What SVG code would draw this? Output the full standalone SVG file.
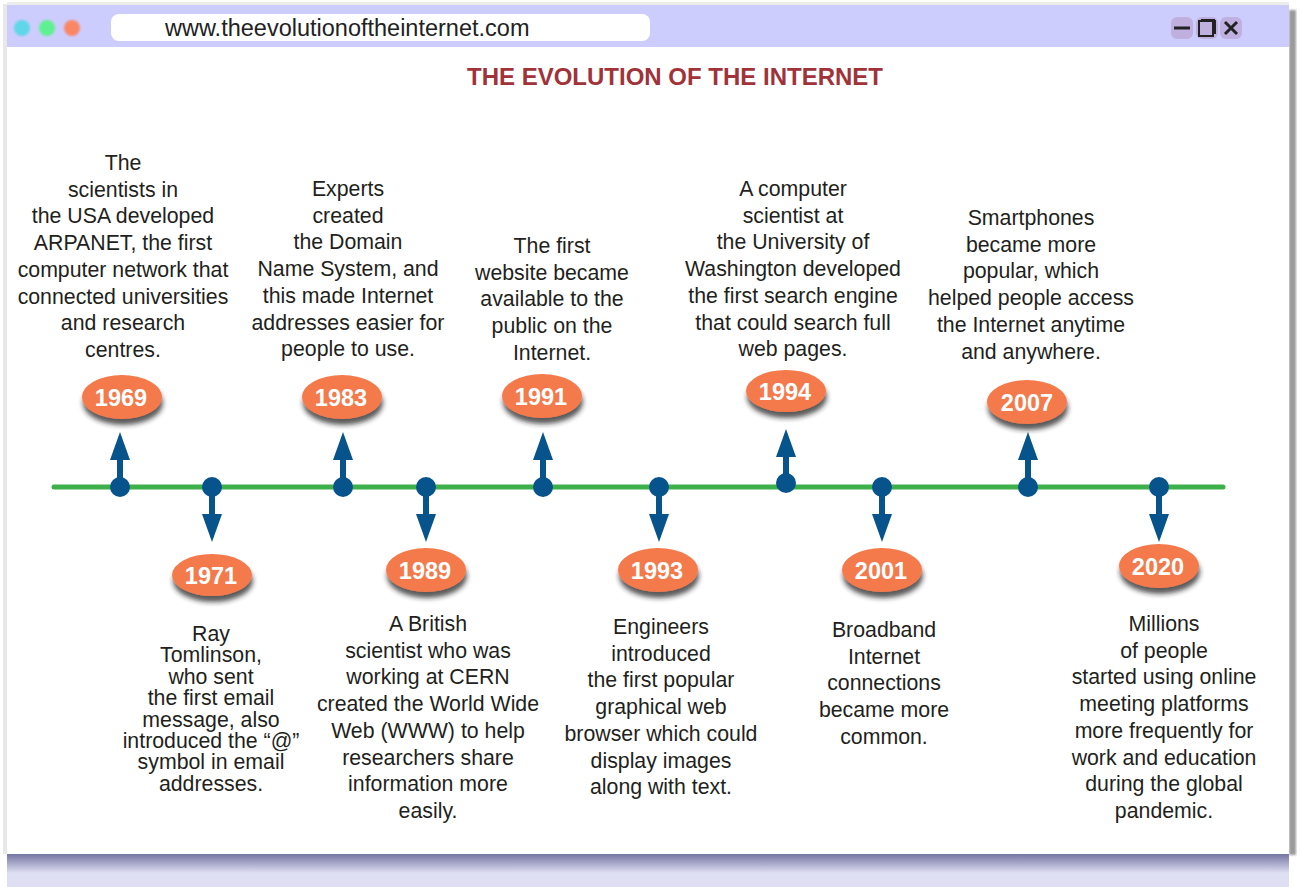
<svg xmlns="http://www.w3.org/2000/svg" width="1300" height="887" viewBox="0 0 1300 887">
<defs>
<style>
.desc{font-family:"Liberation Sans",Arial,Helvetica,sans-serif;font-size:21.3px;fill:#231f20;text-anchor:middle}
.year{font-family:"Liberation Sans",Arial,Helvetica,sans-serif;font-size:23.5px;font-weight:bold;fill:#ffffff;text-anchor:middle}
.pill{fill:#f47a4b;filter:url(#sh)}
.stem{stroke:#07538b;stroke-width:6}
.dot{fill:#07538b}
.head{fill:#07538b}
.btn{fill:#bfb0e0}
</style>
<filter id="sh" x="-30%" y="-30%" width="160%" height="180%">
<feDropShadow dx="1" dy="6" stdDeviation="2.5" flood-color="#222" flood-opacity="0.75"/>
</filter>
<filter id="blur1"><feGaussianBlur stdDeviation="1"/></filter>
<linearGradient id="bshadow" x1="0" y1="0" x2="0" y2="1">
<stop offset="0" stop-color="#6f6f9e"/>
<stop offset="1" stop-color="#dedff2"/>
</linearGradient>
</defs>

<rect x="0" y="0" width="1300" height="887" fill="#ffffff"/>
<!-- window shadow and bottom band -->
<rect x="7" y="853" width="1282" height="34" fill="#dedff2"/>
<rect x="7" y="853" width="1282" height="20" fill="url(#bshadow)"/>
<rect x="1289" y="10" width="7" height="845" fill="#9a9a9a" filter="url(#blur1)"/>
<rect x="3" y="4" width="4" height="850" fill="#e8e8e8"/>
<rect x="7" y="2" width="1282" height="4" fill="#ececec"/>
<!-- window -->
<rect x="7" y="5" width="1282" height="849" fill="#ffffff"/>
<rect x="7" y="5" width="1282" height="42" fill="#cdcdfd"/>
<circle cx="22" cy="28" r="8" fill="#60d6e9" filter="url(#blur1)"/>
<circle cx="47" cy="28" r="8" fill="#5ff191" filter="url(#blur1)"/>
<circle cx="72" cy="28" r="8" fill="#fb8665" filter="url(#blur1)"/>
<rect x="111" y="14" width="539" height="27" rx="8" fill="#ffffff"/>
<text x="165" y="36" font-family="'Liberation Sans',Arial,sans-serif" font-size="23.5" fill="#222">www.theevolutionoftheinternet.com</text>
<rect class="btn" x="1171" y="17" width="22" height="22" rx="6"/>
<rect class="btn" x="1196" y="17" width="22" height="22" rx="6"/>
<rect class="btn" x="1220" y="17" width="22" height="22" rx="6"/>
<line x1="1174" y1="28" x2="1190" y2="28" stroke="#222" stroke-width="3"/>
<rect x="1199" y="21" width="14" height="15" fill="none" stroke="#222" stroke-width="2"/>
<line x1="1201" y1="20" x2="1215" y2="20" stroke="#222" stroke-width="2"/>
<line x1="1215" y1="20" x2="1215" y2="34" stroke="#222" stroke-width="2"/>
<path d="M1225 22 L1237 34 M1237 22 L1225 34" stroke="#222" stroke-width="3"/>

<text x="675" y="85" text-anchor="middle" font-family="'Liberation Sans',Arial,sans-serif" font-size="24" font-weight="bold" fill="#a0333a">THE EVOLUTION OF THE INTERNET</text>

<g id="connectors">
<line x1="54" y1="487" x2="1223" y2="487" stroke="#3db04b" stroke-width="5" stroke-linecap="round"/>
</g>

<g id="n1969">
<line class="stem" x1="120" y1="487" x2="120" y2="458"/>
<path class="head" d="M110 460 L120 432 L130 460 Z"/>
<circle class="dot" cx="120" cy="487" r="10"/>
<ellipse class="pill" cx="122" cy="397" rx="40" ry="22"/>
<text class="year" x="121" y="406">1969</text>
<text class="desc" x="123" y="170">
<tspan x="123">The</tspan><tspan x="123" dy="26.7">scientists in</tspan><tspan x="123" dy="26.7">the USA developed</tspan><tspan x="123" dy="26.7">ARPANET, the first</tspan><tspan x="123" dy="26.7">computer network that</tspan><tspan x="123" dy="26.7">connected universities</tspan><tspan x="123" dy="26.7">and research</tspan><tspan x="123" dy="26.7">centres.</tspan>
</text>
</g>

<g id="n1971">
<line class="stem" x1="212" y1="487" x2="212" y2="516"/>
<path class="head" d="M202 514 L212 542 L222 514 Z"/>
<circle class="dot" cx="212" cy="487" r="10"/>
<ellipse class="pill" cx="212" cy="575" rx="40" ry="21"/>
<text class="year" x="211" y="584">1971</text>
<text class="desc" x="211" y="641">
<tspan x="211">Ray</tspan><tspan x="211" dy="21.4">Tomlinson,</tspan><tspan x="211" dy="21.4">who sent</tspan><tspan x="211" dy="21.4">the first email</tspan><tspan x="211" dy="21.4">message, also</tspan><tspan x="211" dy="21.4">introduced the “@”</tspan><tspan x="211" dy="21.4">symbol in email</tspan><tspan x="211" dy="21.4">addresses.</tspan>
</text>
</g>

<g id="n1983">
<line class="stem" x1="343" y1="487" x2="343" y2="458"/>
<path class="head" d="M333 460 L343 432 L353 460 Z"/>
<circle class="dot" cx="343" cy="487" r="10"/>
<ellipse class="pill" cx="342" cy="397" rx="40" ry="22"/>
<text class="year" x="341" y="406">1983</text>
<text class="desc" x="348" y="196">
<tspan x="348">Experts</tspan><tspan x="348" dy="26.7">created</tspan><tspan x="348" dy="26.7">the Domain</tspan><tspan x="348" dy="26.7">Name System, and</tspan><tspan x="348" dy="26.7">this made Internet</tspan><tspan x="348" dy="26.7">addresses easier for</tspan><tspan x="348" dy="26.7">people to use.</tspan>
</text>
</g>

<g id="n1989">
<line class="stem" x1="426" y1="487" x2="426" y2="516"/>
<path class="head" d="M416 514 L426 542 L436 514 Z"/>
<circle class="dot" cx="426" cy="487" r="10"/>
<ellipse class="pill" cx="426" cy="570" rx="40" ry="22"/>
<text class="year" x="425" y="579">1989</text>
<text class="desc" x="428" y="631">
<tspan x="428">A British</tspan><tspan x="428" dy="26.7">scientist who was</tspan><tspan x="428" dy="26.7">working at CERN</tspan><tspan x="428" dy="26.7">created the World Wide</tspan><tspan x="428" dy="26.7">Web (WWW) to help</tspan><tspan x="428" dy="26.7">researchers share</tspan><tspan x="428" dy="26.7">information more</tspan><tspan x="428" dy="26.7">easily.</tspan>
</text>
</g>

<g id="n1991">
<line class="stem" x1="543" y1="487" x2="543" y2="458"/>
<path class="head" d="M533 460 L543 432 L553 460 Z"/>
<circle class="dot" cx="543" cy="487" r="10"/>
<ellipse class="pill" cx="542" cy="396" rx="40" ry="22"/>
<text class="year" x="541" y="405">1991</text>
<text class="desc" x="552" y="253">
<tspan x="552">The first</tspan><tspan x="552" dy="26.7">website became</tspan><tspan x="552" dy="26.7">available to the</tspan><tspan x="552" dy="26.7">public on the</tspan><tspan x="552" dy="26.7">Internet.</tspan>
</text>
</g>

<g id="n1993">
<line class="stem" x1="659" y1="487" x2="659" y2="516"/>
<path class="head" d="M649 514 L659 542 L669 514 Z"/>
<circle class="dot" cx="659" cy="487" r="10"/>
<ellipse class="pill" cx="658" cy="570" rx="40" ry="22"/>
<text class="year" x="657" y="579">1993</text>
<text class="desc" x="661" y="634">
<tspan x="661">Engineers</tspan><tspan x="661" dy="26.7">introduced</tspan><tspan x="661" dy="26.7">the first popular</tspan><tspan x="661" dy="26.7">graphical web</tspan><tspan x="661" dy="26.7">browser which could</tspan><tspan x="661" dy="26.7">display images</tspan><tspan x="661" dy="26.7">along with text.</tspan>
</text>
</g>

<g id="n1994">
<line class="stem" x1="786" y1="484" x2="786" y2="455"/>
<path class="head" d="M776 457 L786 429 L796 457 Z"/>
<circle class="dot" cx="786" cy="483" r="10"/>
<ellipse class="pill" cx="786" cy="391" rx="40" ry="21"/>
<text class="year" x="785" y="400">1994</text>
<text class="desc" x="793" y="196">
<tspan x="793">A computer</tspan><tspan x="793" dy="26.7">scientist at</tspan><tspan x="793" dy="26.7">the University of</tspan><tspan x="793" dy="26.7">Washington developed</tspan><tspan x="793" dy="26.7">the first search engine</tspan><tspan x="793" dy="26.7">that could search full</tspan><tspan x="793" dy="26.7">web pages.</tspan>
</text>
</g>

<g id="n2001">
<line class="stem" x1="882" y1="487" x2="882" y2="516"/>
<path class="head" d="M872 514 L882 542 L892 514 Z"/>
<circle class="dot" cx="882" cy="487" r="10"/>
<ellipse class="pill" cx="882" cy="570" rx="40" ry="22"/>
<text class="year" x="881" y="579">2001</text>
<text class="desc" x="884" y="637">
<tspan x="884">Broadband</tspan><tspan x="884" dy="26.7">Internet</tspan><tspan x="884" dy="26.7">connections</tspan><tspan x="884" dy="26.7">became more</tspan><tspan x="884" dy="26.7">common.</tspan>
</text>
</g>

<g id="n2007">
<line class="stem" x1="1028" y1="487" x2="1028" y2="458"/>
<path class="head" d="M1018 460 L1028 432 L1038 460 Z"/>
<circle class="dot" cx="1028" cy="487" r="10"/>
<ellipse class="pill" cx="1027" cy="402" rx="40" ry="22"/>
<text class="year" x="1027" y="411">2007</text>
<text class="desc" x="1031" y="225">
<tspan x="1031">Smartphones</tspan><tspan x="1031" dy="26.7">became more</tspan><tspan x="1031" dy="26.7">popular, which</tspan><tspan x="1031" dy="26.7">helped people access</tspan><tspan x="1031" dy="26.7">the Internet anytime</tspan><tspan x="1031" dy="26.7">and anywhere.</tspan>
</text>
</g>

<g id="n2020">
<line class="stem" x1="1159" y1="487" x2="1159" y2="516"/>
<path class="head" d="M1149 514 L1159 542 L1169 514 Z"/>
<circle class="dot" cx="1159" cy="487" r="10"/>
<ellipse class="pill" cx="1159" cy="566" rx="40" ry="22"/>
<text class="year" x="1158" y="575">2020</text>
<text class="desc" x="1164" y="631">
<tspan x="1164">Millions</tspan><tspan x="1164" dy="26.7">of people</tspan><tspan x="1164" dy="26.7">started using online</tspan><tspan x="1164" dy="26.7">meeting platforms</tspan><tspan x="1164" dy="26.7">more frequently for</tspan><tspan x="1164" dy="26.7">work and education</tspan><tspan x="1164" dy="26.7">during the global</tspan><tspan x="1164" dy="26.7">pandemic.</tspan>
</text>
</g>
</svg>
